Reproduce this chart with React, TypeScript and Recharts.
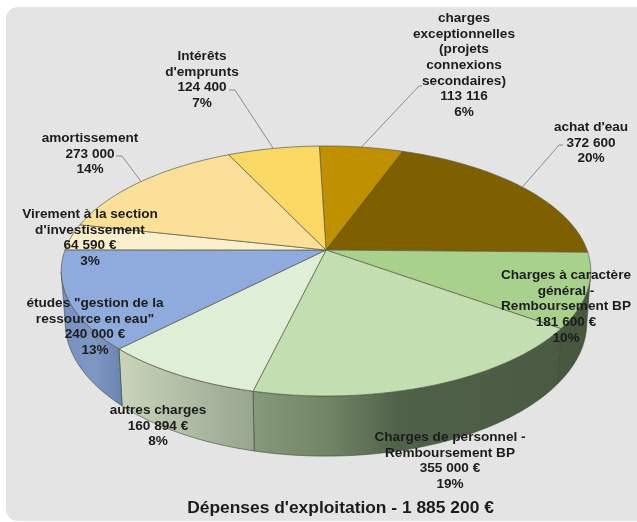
import { PieChart, Pie } from "recharts";

const categories = [
  "charges exceptionnelles (projets connexions secondaires)",
  "achat d'eau",
  "Charges à caractère général - Remboursement BP",
  "Charges de personnel - Remboursement BP",
  "autres charges",
  'études "gestion de la ressource en eau"',
  "Virement à la section d'investissement",
  "amortissement",
  "Intérêts d'emprunts",
];
const values = [113116, 372600, 181600, 355000, 160894, 240000, 64590, 273000, 124400];
const valueLabels = [
  "113 116",
  "372 600",
  "181 600 €",
  "355 000 €",
  "160 894 €",
  "240 000 €",
  "64 590 €",
  "273 000",
  "124 400",
];
const percentLabels = ["6%", "20%", "10%", "19%", "8%", "13%", "3%", "14%", "7%"];
const nameLines = [
  ["charges", "exceptionnelles", "(projets", "connexions", "secondaires)"],
  ["achat d'eau"],
  ["Charges à caractère", "général -", "Remboursement BP"],
  ["Charges de personnel -", "Remboursement BP"],
  ["autres charges"],
  ['études "gestion de la', 'ressource en eau"'],
  ["Virement à la section", "d'investissement"],
  ["amortissement"],
  ["Intérêts", "d'emprunts"],
];

const topColors = ["#bf9000", "#7f6000", "#a9d18e", "#c3dfb1", "#dfeed6", "#8faadc", "#fbf0cb", "#fbe09a", "#fbd863"];

// wall gradient stops, only the slices facing the viewer have one
const wallStops: Record<number, [number, string][]> = {
  2: [[0, "#47583e"], [1, "#47583e"]],
  3: [[0, "#84997a"], [0.25, "#6f8565"], [0.48, "#50614a"], [1, "#4a5a43"]],
  4: [[0, "#c8d3b9"], [1, "#97a58f"]],
  5: [[0, "#7391c6"], [0.55, "#7f97c2"], [1, "#6a84b2"]],
};
const wallRanges: Record<string, [number, number]> = {
  "2": [557, 592],
  "3": [255, 557],
  "4": [122, 255],
  "5": [60, 122],
};

// where the text blocks sit: centre x, first line centre y, and the leader elbow
const labelLayout = [
  { x: 464, y: 17, elbow: [[419, 86], [422, 86]] },
  { x: 591, y: 126, elbow: [[559, 145], [563, 145]] },
  { x: 566, y: 274 },
  { x: 450, y: 436 },
  { x: 158, y: 409 },
  { x: 95, y: 302 },
  { x: 90, y: 213 },
  { x: 90, y: 137, elbow: [[122, 156], [116, 156]] },
  { x: 202, y: 55, elbow: [[235, 90], [229, 90]] },
];

const tableData = categories.map((name, i) => ({ name, value: values[i], fill: topColors[i] }));

const WIDTH = 637;
const HEIGHT = 522;
const LINE_H = 15.7;
const PERSP = 0.168; // how much nearer the front rim is
const SQUASH = 0.4655;
const DEPTH = 50;

const RAD = Math.PI / 180;

// recharts angle (ccw from 3 o'clock) to a point on the tilted disc
function project(cx: number, cy: number, r: number, angle: number) {
  const X = Math.cos(angle * RAD);
  const Z = Math.sin(angle * RAD);
  const w = 1 + PERSP * Z;
  return { x: cx + (r * X) / w, y: cy - (r * SQUASH * Z) / w, w };
}

function lowerRim(cx: number, cy: number, r: number, angle: number) {
  const p = project(cx, cy, r, angle);
  return { x: cx + (p.x - cx) * 0.985, y: p.y + DEPTH / p.w };
}

function arcPoints(from: number, to: number, fn: (a: number) => { x: number; y: number }) {
  const n = Math.max(2, Math.ceil(Math.abs(to - from)));
  const pts: string[] = [];
  for (let i = 0; i <= n; i++) {
    const p = fn(from + ((to - from) * i) / n);
    pts.push(`${p.x.toFixed(2)} ${p.y.toFixed(2)}`);
  }
  return pts;
}

function DiscSlice(props: any) {
  const { cx, cy, outerRadius, startAngle, endAngle, fill, index } = props;
  const idx = index ?? tableData.findIndex((d) => d.name === props.name);
  const top = arcPoints(startAngle, endAngle, (a) => project(cx, cy, outerRadius, a));
  const topPath = `M${cx} ${cy}L${top.join("L")}Z`;

  // visible part of the side wall: between the two silhouette angles, in front
  const s = Math.min(Math.max(startAngle, endAngle), -10);
  const e = Math.max(Math.min(startAngle, endAngle), -170);
  let wall = null;
  if (s > e) {
    const upper = arcPoints(s, e, (a) => project(cx, cy, outerRadius, a));
    const lower = arcPoints(e, s, (a) => lowerRim(cx, cy, outerRadius, a));
    wall = (
      <path
        d={`M${upper.join("L")}L${lower.join("L")}Z`}
        fill={`url(#wall${idx})`}
        stroke="#3c4636"
        strokeWidth={0.6}
      />
    );
  }

  return (
    <g>
      {wall}
      <path d={topPath} fill={fill} stroke="#5a5a44" strokeWidth={0.7} strokeLinejoin="round" />
    </g>
  );
}

function SliceLabel(props: any) {
  const { index, cx, cy, outerRadius, midAngle } = props;
  const layout = labelLayout[index];
  const lines = [...nameLines[index], valueLabels[index], percentLabels[index]];
  const rim = project(cx, cy, outerRadius, midAngle);
  return (
    <g>
      {layout.elbow && (
        <polyline
          points={`${rim.x},${rim.y} ${layout.elbow.map((p) => p.join(",")).join(" ")}`}
          fill="none"
          stroke="#8c8c8c"
          strokeWidth={1}
        />
      )}
      <text
        textAnchor="middle"
        fontFamily="'Liberation Sans', Arial, sans-serif"
        fontSize={13.6}
        fontWeight="bold"
        fill="#1c1c1c"
      >
        {lines.map((line, i) => (
          <tspan key={i} x={layout.x} y={layout.y + i * LINE_H + 4.8}>
            {line}
          </tspan>
        ))}
      </text>
    </g>
  );
}

export default function App() {
  return (
    <div style={{ position: "absolute", left: 0, top: 0, width: WIDTH, height: HEIGHT, background: "#fff", overflow: "hidden" }}>
      <div
        style={{
          position: "absolute",
          left: 6,
          top: 7,
          width: WIDTH - 6,
          height: HEIGHT - 8,
          background: "#e4e4e4",
          borderRadius: "12px 0 0 12px",
        }}
      />
      <div style={{ position: "absolute", left: 0, top: 0, filter: "blur(0.35px)" }}>
        <PieChart width={WIDTH} height={HEIGHT} margin={{ top: 0, right: 0, bottom: 0, left: 0 }}>
          <defs>
            {Object.entries(wallStops).map(([i, stops]) => (
              <linearGradient
                key={i}
                id={`wall${i}`}
                gradientUnits="userSpaceOnUse"
                x1={wallRanges[i][0]}
                x2={wallRanges[i][1]}
                y1={0}
                y2={0}
              >
                {stops.map(([o, c]) => (
                  <stop key={o} offset={o} stopColor={c} />
                ))}
              </linearGradient>
            ))}
          </defs>
          <Pie
            data={tableData}
            dataKey="value"
            nameKey="name"
            cx={326}
            cy={250}
            innerRadius={0}
            outerRadius={261}
            startAngle={91.7}
            endAngle={-268.3}
            paddingAngle={0}
            shape={DiscSlice}
            label={SliceLabel}
            labelLine={false}
            isAnimationActive={false}
          />
          <text
            x={340.5}
            y={513}
            textAnchor="middle"
            fontFamily="'Liberation Sans', Arial, sans-serif"
            fontSize={17.4}
            fontWeight="bold"
            fill="#1c1c1c"
          >
            Dépenses d'exploitation - 1 885 200 €
          </text>
        </PieChart>
      </div>
    </div>
  );
}
